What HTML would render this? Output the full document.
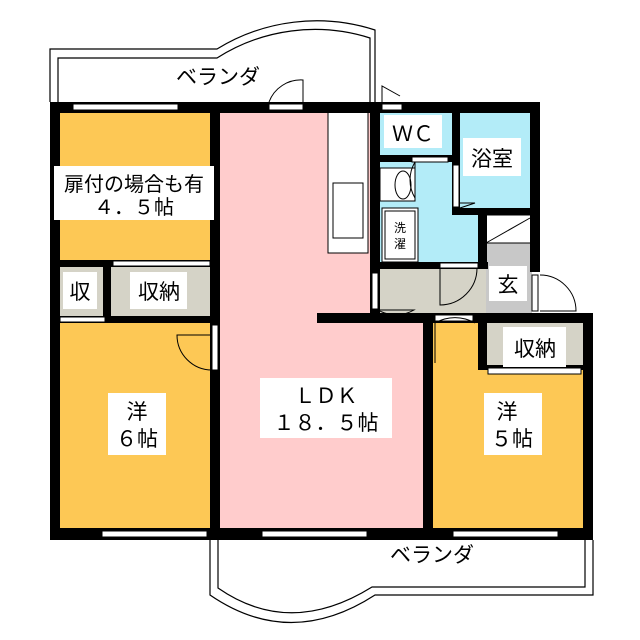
<!DOCTYPE html>
<html><head><meta charset="utf-8"><style>
html,body{margin:0;padding:0;background:#fff}
svg{display:block}
text{font-family:"Liberation Sans","Noto Sans CJK JP",sans-serif;fill:#000}
</style></head><body>
<svg width="640" height="640" viewBox="0 0 640 640" xmlns="http://www.w3.org/2000/svg">
<!-- top balcony -->
<g fill="none" stroke="#000" stroke-width="1.2">
<path d="M50 102 V49 H217 A190 190 0 0 1 375 30 V102"/>
<path d="M58 102 V58 H217 A182 182 0 0 1 370 38 V102"/>
</g>
<!-- bottom balcony -->
<g fill="none" stroke="#000" stroke-width="1.2">
<path d="M210 540 V595 Q290 650 375 595 H593 V540"/>
<path d="M218 540 V588 Q290 638 372 587 H585 V540"/>
</g>
<!-- fills -->
<rect x="60" y="112" width="152" height="152" fill="#fdc855"/>
<rect x="220" y="112" width="152" height="205" fill="#ffcccc"/>
<rect x="220" y="315" width="205" height="215" fill="#ffcccc"/>
<rect x="60" y="320" width="152" height="210" fill="#fdc855"/>
<rect x="430" y="320" width="155" height="210" fill="#fdc855"/>
<rect x="60" y="264" width="45" height="55" fill="#d5d3c7"/>
<rect x="110" y="264" width="102" height="55" fill="#d5d3c7"/>
<rect x="485" y="320" width="100" height="48" fill="#d5d3c7"/>
<rect x="378" y="112" width="80" height="45" fill="#b3ecf8"/>
<rect x="458" y="112" width="75" height="98" fill="#b3ecf8"/>
<rect x="378" y="160" width="105" height="105" fill="#b3ecf8"/>
<rect x="378" y="268" width="110" height="48" fill="#d5d3c7"/>
<rect x="486" y="213" width="46" height="102" fill="#c8c8c8"/>
<rect x="486" y="215" width="46" height="28" fill="#fff" stroke="#000" stroke-width="1"/>
<line x1="486" y1="243" x2="530" y2="218" stroke="#000"/>
<!-- kitchen -->
<rect x="328" y="112" width="40" height="141" fill="#fff" stroke="#000"/>
<rect x="333" y="183" width="30" height="55" fill="#fff" stroke="#000"/>
<!-- walls -->
<g fill="#000">
<rect x="50" y="102" width="490" height="11"/>
<rect x="50" y="102" width="10" height="438"/>
<rect x="50" y="528" width="543" height="12"/>
<rect x="210" y="102" width="10" height="438"/>
<rect x="370" y="102" width="10" height="215"/>
<rect x="530" y="102" width="10" height="170"/>
<rect x="317" y="313" width="276" height="10"/>
<rect x="583" y="313" width="10" height="227"/>
<rect x="423" y="313" width="10" height="227"/>
<rect x="50" y="260" width="170" height="7"/>
<rect x="50" y="316" width="170" height="7"/>
<rect x="103" y="260" width="8" height="63"/>
<rect x="378" y="155" width="80" height="7"/>
<rect x="452" y="102" width="8" height="113"/>
<rect x="452" y="208" width="88" height="7"/>
<rect x="478" y="208" width="9" height="60"/>
<rect x="378" y="262" width="110" height="7"/>
<rect x="478" y="320" width="9" height="50"/>
<rect x="478" y="365" width="115" height="5"/>
</g>
<!-- windows / openings -->
<g fill="#fff" stroke="#000" stroke-width="1">
<rect x="73" y="104" width="105" height="6"/>
<rect x="269" y="104" width="34" height="6"/>
<rect x="382" y="104" width="20" height="6"/>
<rect x="102" y="531" width="105" height="6"/>
<rect x="262" y="531" width="105" height="6"/>
<rect x="453" y="531" width="105" height="6"/>
<rect x="113" y="261" width="97" height="5"/>
<rect x="60" y="317" width="45" height="5"/>
<rect x="212" y="325" width="6" height="45"/>
<rect x="412" y="157" width="36" height="5"/>
<rect x="453" y="165" width="6" height="42"/>
<rect x="440" y="263" width="38" height="5"/>
<rect x="372" y="273" width="6" height="36"/>
<rect x="532" y="275" width="6" height="36"/>
<rect x="435" y="315" width="38" height="6"/>
<rect x="488" y="368" width="93" height="6"/>
<rect x="380" y="168" width="35" height="33"/>
<ellipse cx="403" cy="185" rx="8" ry="14"/>
<rect x="382" y="208" width="36" height="54"/>
<rect x="385" y="211" width="30" height="48"/>
</g>
<g fill="none" stroke="#000" stroke-width="1">
<path d="M303 102 V80 A34 34 0 0 0 269 102"/>
<path d="M382 102 V86 L400 96"/>
<path d="M212 370 A35 35 0 0 1 177 335 H212"/>
<path d="M415 162 V198 A35 35 0 0 1 415 162"/>
<path d="M440 268 V305 A37 37 0 0 0 477 268"/>
<path d="M378 310 A36 36 0 0 0 414 310 H378"/>
<path d="M540 275 A36 36 0 0 1 576 311 H540"/>
<path d="M435 363 V323 A40 40 0 0 1 475 323"/>
<path d="M460 203 H475 L460 208"/>
</g>
<!-- label boxes -->
<g fill="#fff">
<rect x="54" y="166" width="160" height="54"/>
<rect x="63" y="272" width="34" height="37"/>
<rect x="130" y="272" width="57" height="37"/>
<rect x="108" y="393" width="58" height="62"/>
<rect x="260" y="378" width="132" height="60"/>
<rect x="484" y="393" width="58" height="62"/>
<rect x="503" y="327" width="63" height="40"/>
<rect x="384" y="115" width="58" height="33"/>
<rect x="463" y="138" width="58" height="38"/>
<rect x="489" y="266" width="38" height="35"/>
</g>
<g font-size="21" text-anchor="middle">
<text x="218" y="84">ベランダ</text>
<text x="432" y="562">ベランダ</text>
<text x="134" y="191" font-size="20">扉付の場合も有</text>
<text x="134" y="214" font-size="20">４．５帖</text>
<text x="80" y="299">収</text>
<text x="159" y="299">収納</text>
<text x="137" y="419">洋</text>
<text x="137" y="446">６帖</text>
<text x="326" y="403">ＬＤＫ</text>
<text x="326" y="430">１８．５帖</text>
<text x="507" y="419">洋</text>
<text x="512" y="446">５帖</text>
<text x="535" y="356">収納</text>
<text x="413" y="141">ＷＣ</text>
<text x="492" y="166">浴室</text>
<text x="508" y="292">玄</text>
</g>
<g font-size="12" text-anchor="middle">
<text x="400" y="232">洗</text>
<text x="400" y="248">濯</text>
</g>
</svg>
</body></html>
